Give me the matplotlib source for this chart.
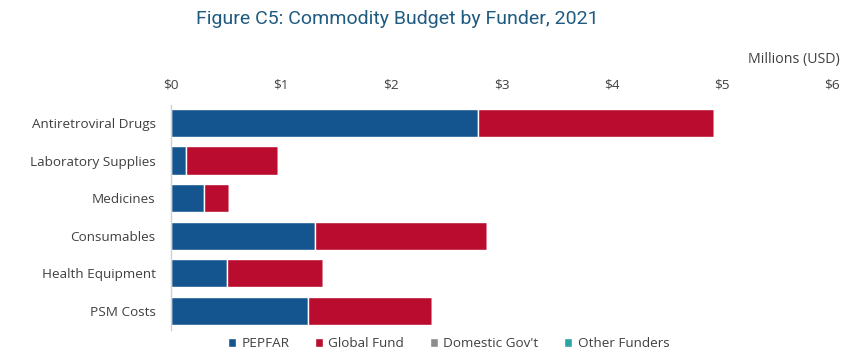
import matplotlib.pyplot as plt
import numpy as np

# Commodity budget by funder, millions USD
categories = ["Antiretroviral Drugs", "Laboratory Supplies", "Medicines",
              "Consumables", "Health Equipment", "PSM Costs"]
pepfar = [2.79, 0.14, 0.30, 1.31, 0.51, 1.24]
global_fund = [2.14, 0.83, 0.23, 1.56, 0.87, 1.13]
domestic = [0, 0, 0, 0, 0, 0]
other = [0, 0, 0, 0, 0, 0]
xticks = [0, 1, 2, 3, 4, 5, 6]
xticklabels = ["$0", "$1", "$2", "$3", "$4", "$5", "$6"]

series = [("PEPFAR", pepfar, "#15558F"),
          ("Global Fund", global_fund, "#BA0C2F"),
          ("Domestic Gov't", domestic, "#8C8C8C"),
          ("Other Funders", other, "#2BA3A7")]

plt.rcParams['font.family'] = ['Open Sans', 'DejaVu Sans']

fig = plt.figure(figsize=(8.5, 3.62), dpi=100)
ax = fig.add_axes([0.201, 0.088, 0.778, 0.622])

y = np.arange(len(categories))
left = np.zeros(len(categories))
for name, vals, color in series:
    vals = np.array(vals)
    ax.barh(y, vals, left=left, height=0.75, color=color, edgecolor="white",
            linewidth=1.0, label=name)
    left += vals

ax.set_ylim(5.52, -0.48)
ax.set_xlim(0, 6)
ax.set_yticks(y)
ax.set_yticklabels(categories, fontsize=9.7, color="#404040")
ax.set_xticks(xticks)
ax.set_xticklabels(xticklabels, fontsize=9.7, color="#404040")
ax.xaxis.tick_top()
ax.tick_params(axis="x", length=0, pad=10)
ax.tick_params(axis="y", length=0, pad=11)
for s in ["top", "right", "bottom"]:
    ax.spines[s].set_visible(False)
ax.spines["left"].set_color("#D0D0D0")
ax.spines["left"].set_linewidth(1.0)

fig.text(0.468, 0.948, "Figure C5: Commodity Budget by Funder, 2021",
         ha="center", va="center", fontsize=14, color="#1F5A80",
         family=["Roboto", "DejaVu Sans"])
fig.text(0.988, 0.835, "Millions (USD)", ha="right", va="center",
         fontsize=10.2, color="#404040")

ax.legend(loc="center", bbox_to_anchor=(0.42, -0.06), ncol=4, frameon=False,
          fontsize=9.7, handlelength=0.6, handleheight=0.6, handletextpad=0.4,
          columnspacing=1.9, labelcolor="#404040")

fig.savefig("out.png", dpi=100)
